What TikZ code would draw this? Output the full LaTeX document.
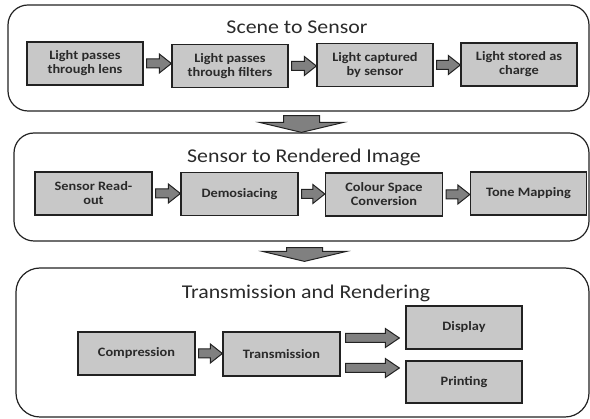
\documentclass[tikz,border=0pt]{standalone}
\usepackage{fontspec}
\setmainfont{Carlito}[FakeStretch=1.12]
\usepackage{tikz}
\usetikzlibrary{calc}
\definecolor{boxgray}{HTML}{C8C8C8}
\definecolor{flowgray}{HTML}{808080}
\definecolor{edgegray}{HTML}{222222}
\definecolor{inkgray}{HTML}{2A2A2A}
\tikzset{
  panel/.style={draw=edgegray, line width=1.2pt, rounded corners=20pt, inner sep=0pt},
  stage/.style={draw=edgegray, line width=1.3pt, fill=boxgray, inner sep=0pt,
    minimum width=116pt, minimum height=43pt, align=center, text=inkgray,
    font=\fontsize{12.8}{14}\selectfont\bfseries},
  heading/.style={text=inkgray, font=\fontsize{19.5}{22}\selectfont},
  flow/.style={draw=edgegray, line width=1pt, fill=flowgray, line join=miter}
}
\newcommand{\hflow}[3][12pt]{%
  \draw[flow] let \p1=#2, \p2=#3 in
    (\x1,\y1+4.5pt) -- (\x2-#1,\y1+4.5pt) -- (\x2-#1,\y1+9.5pt) -- (\x2,\y1)
    -- (\x2-#1,\y1-9.5pt) -- (\x2-#1,\y1-4.5pt) -- (\x1,\y1-4.5pt) -- cycle;}
\newcommand{\vflow}[2]{%
  \draw[flow] let \p1=#1, \p2=#2 in
    (\x1-18pt,\y1) -- (\x1+18pt,\y1) -- (\x1+18pt,\y2+10pt) -- (\x1+42pt,\y2+10pt)
    -- (\x1,\y2) -- (\x1-42pt,\y2+10pt) -- (\x1-18pt,\y2+10pt) -- cycle;}
\begin{document}
\begin{tikzpicture}[x=1pt, y=-1pt]
  \useasboundingbox (0,0) rectangle (590,419);

  \node[panel, minimum width=581pt, minimum height=106pt] (scene) at (298.5,58) {};
  \node[panel, minimum width=575pt, minimum height=108pt] (rendering) at (301.5,187) {};
  \node[panel, rounded corners=24pt, minimum width=573pt, minimum height=149pt] (delivery) at (302.5,342.5) {};

  \node[heading] (t1) at (297,27) {Scene to Sensor};
  \node[heading] (t2) at (304,157) {Sensor to Rendered Image};
  \node[heading] (t3) at (306,293) {Transmission and Rendering};

  \node[stage] (lens) at (85,63.5) {Light passes\\through lens};
  \node[stage] (filt) at (230,66) {Light passes\\through filters};
  \node[stage] (capt) at (375,65) {Light captured\\by sensor};
  \node[stage] (stor) at (519,64.5) {Light stored as\\charge};

  \node[stage, minimum width=117pt] (read) at (93.5,193.5) {Sensor Read-\\out};
  \node[stage, minimum width=117pt] (demo) at (239.5,194) {Demosiacing};
  \node[stage, minimum width=117pt] (conv) at (384,194.5) {Colour Space\\Conversion};
  \node[stage, minimum width=116pt] (tone) at (528.5,193.5) {Tone Mapping};

  \node[stage, minimum width=117pt] (comp) at (136.5,353.5) {Compression};
  \node[stage, minimum width=117pt, minimum height=44pt] (trans) at (281.5,354) {Transmission};
  \node[stage] (disp) at (464,327.5) {Display};
  \node[stage, minimum height=42pt] (prnt) at (464,382) {Printing};

  \hflow{($(lens.east)+(3,0)$)}{(filt.west)}
  \hflow{($(filt.east)+(3,0)$)}{(capt.west)}
  \hflow{($(capt.east)+(3,0)$)}{(stor.west)}

  \hflow{($(read.east)+(3,0)$)}{(demo.west)}
  \hflow{($(demo.east)+(3,0)$)}{(conv.west)}
  \hflow{($(conv.east)+(3,0)$)}{(tone.west)}

  \hflow{($(comp.east)+(3,0)$)}{(trans.west)}
  \hflow[14pt]{($(trans.east)+(5,-16)$)}{($(disp.west)+(-6,0)$)}
  \hflow[14pt]{($(trans.east)+(5,14)$)}{($(prnt.west)+(-6,0)$)}

  \vflow{($(scene.south)+(3,4)$)}{(rendering.north)}
  \vflow{($(rendering.south)+(3,6)$)}{($(delivery.north)+(0,-6)$)}
\end{tikzpicture}
\end{document}
